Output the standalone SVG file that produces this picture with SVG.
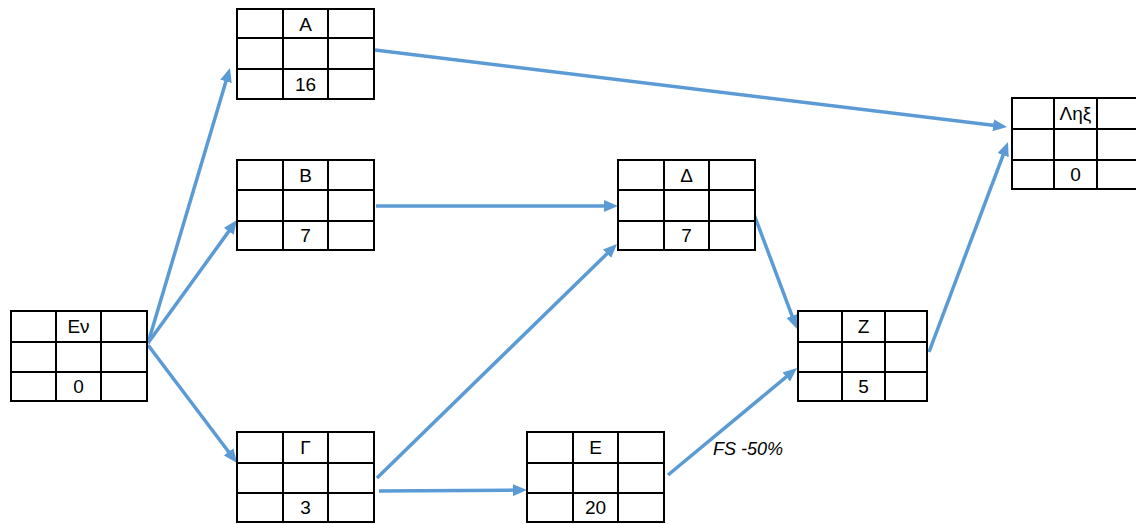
<svg xmlns="http://www.w3.org/2000/svg" width="1136" height="524" viewBox="0 0 1136 524">
<style>
.cell{fill:#fff;stroke:#000;stroke-width:2}
.grid{stroke:#000;stroke-width:2;fill:none}
.t{font-family:"Liberation Sans",Arial,sans-serif;font-size:19px;fill:#000;text-anchor:middle}
.lbl{font-family:"Liberation Sans",Arial,sans-serif;font-size:18px;font-style:italic;fill:#000}
.c{stroke:#5B9BD5;stroke-width:3.5;fill:none;marker-end:url(#ah)}
</style>
<defs>
<marker id="ah" markerUnits="userSpaceOnUse" markerWidth="14" markerHeight="12" refX="4" refY="6" orient="auto">
<path d="M0,0 L14,6 L0,12 z" fill="#5B9BD5"/>
</marker>
</defs>
<rect width="1136" height="524" fill="#fff"/>
<g id="connectors">
<line class="c" x1="148" y1="343" x2="227.1" y2="77.6"/>
<line class="c" x1="148" y1="343" x2="231.1" y2="228.1"/>
<line class="c" x1="148" y1="345" x2="231" y2="455"/>
<line class="c" x1="375" y1="50" x2="997.1" y2="125.8"/>
<line class="c" x1="929" y1="352" x2="1004.5" y2="151.4"/>
<line class="c" x1="376" y1="206" x2="608" y2="206"/>
<line class="c" x1="377" y1="478" x2="609.8" y2="251"/>
<line class="c" x1="379" y1="491" x2="517" y2="490.1"/>
<line class="c" x1="752" y1="209" x2="793.5" y2="319.6"/>
<line class="c" x1="668" y1="475" x2="789.3" y2="374.4"/>
<text class="lbl" x="713" y="455">FS -50%</text>
</g>
<g id="node-A">
<rect class="cell" x="237" y="9" width="137" height="90"/>
<path class="grid" d="M283,9V99M328,9V99M237,38H374M237,69H374"/>
<text class="t" x="305.5" y="31">Α</text>
<text class="t" x="305.5" y="91">16</text>
</g>
<g id="node-B">
<rect class="cell" x="237" y="160" width="137" height="90"/>
<path class="grid" d="M283,160V250M328,160V250M237,190H374M237,221H374"/>
<text class="t" x="305.5" y="182">Β</text>
<text class="t" x="305.5" y="242">7</text>
</g>
<g id="node-G">
<rect class="cell" x="237" y="432" width="137" height="90"/>
<path class="grid" d="M283,432V522M328,432V522M237,463H374M237,493H374"/>
<text class="t" x="305.5" y="454">Γ</text>
<text class="t" x="305.5" y="514">3</text>
</g>
<g id="node-Ev">
<rect class="cell" x="11" y="311" width="136" height="90"/>
<path class="grid" d="M56,311V401M101,311V401M11,342H147M11,372H147"/>
<text class="t" x="78.5" y="333">Εν</text>
<text class="t" x="78.5" y="393">0</text>
</g>
<g id="node-D">
<rect class="cell" x="618" y="160" width="137" height="90"/>
<path class="grid" d="M664,160V250M709,160V250M618,190H755M618,221H755"/>
<text class="t" x="686.5" y="182">Δ</text>
<text class="t" x="686.5" y="242">7</text>
</g>
<g id="node-E">
<rect class="cell" x="527" y="432" width="137" height="90"/>
<path class="grid" d="M573,432V522M618,432V522M527,463H664M527,493H664"/>
<text class="t" x="595.5" y="454">Ε</text>
<text class="t" x="595.5" y="514">20</text>
</g>
<g id="node-Z">
<rect class="cell" x="798" y="311" width="129" height="90"/>
<path class="grid" d="M842,311V401M885,311V401M798,342H927M798,372H927"/>
<text class="t" x="863.5" y="333">Ζ</text>
<text class="t" x="863.5" y="393">5</text>
</g>
<g id="node-End">
<rect class="cell" x="1012" y="98" width="130" height="91"/>
<path class="grid" d="M1054,98V189M1097,98V189M1012,129H1142M1012,160H1142"/>
<text class="t" x="1075.5" y="120">Ληξ</text>
<text class="t" x="1075.5" y="181">0</text>
</g>
</svg>
